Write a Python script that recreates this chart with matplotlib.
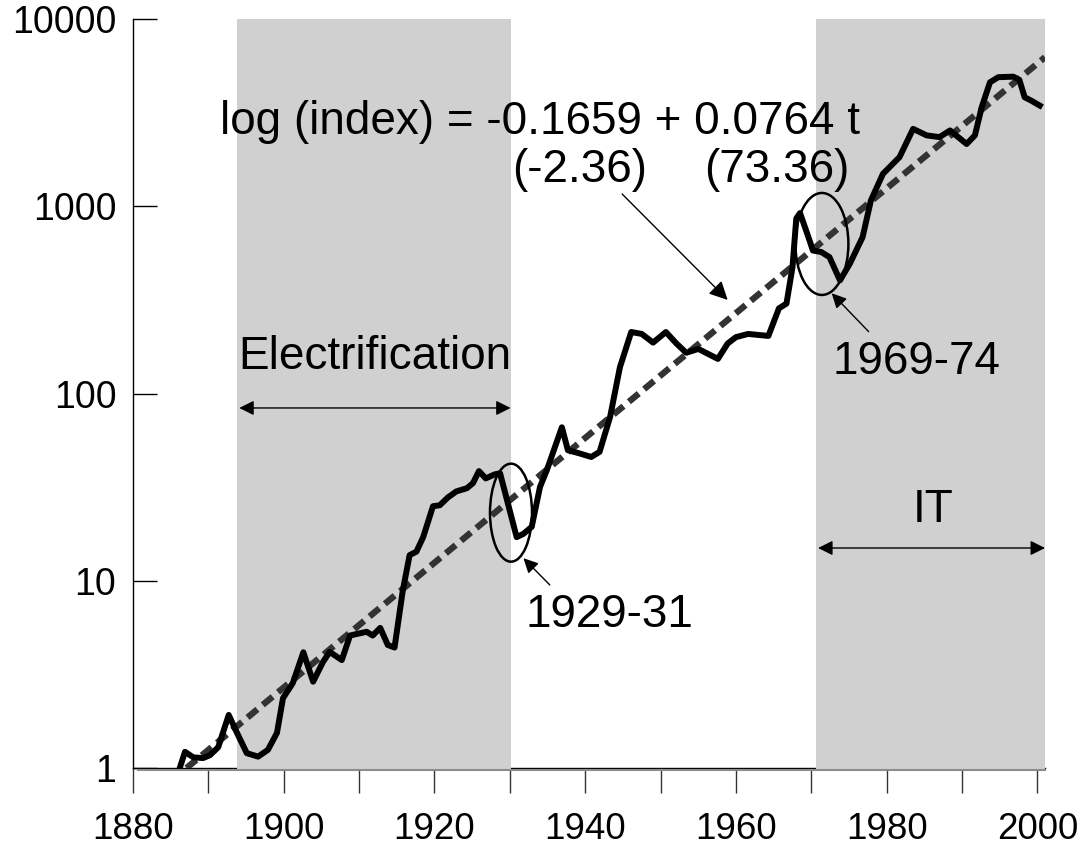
import matplotlib
matplotlib.use("Agg")
import matplotlib.pyplot as plt
from matplotlib.patches import Ellipse
from matplotlib.ticker import NullLocator

plt.rcParams['font.family'] = ['Liberation Sans', 'DejaVu Sans']

# ---- data ----
years = [1886.2, 1886.9, 1888.0, 1889.3, 1890.2, 1891.3, 1892.7, 1893.8, 1895.1, 1896.6,
         1897.9, 1899.1, 1899.9, 1901.2, 1902.6, 1903.9, 1905.2, 1906.1, 1907.7, 1908.8,
         1911.0, 1911.8, 1912.8, 1913.8, 1914.7, 1915.8, 1916.7, 1917.6, 1918.5, 1919.8,
         1920.7, 1921.8, 1922.9, 1924.3, 1925.1, 1925.9, 1926.8, 1928.0, 1928.7, 1930.9,
         1931.8, 1932.9, 1934.0, 1934.9, 1936.9, 1937.7, 1939.3, 1940.8, 1941.9, 1943.3,
         1944.6, 1946.1, 1947.5, 1949.0, 1950.7, 1952.1, 1953.4, 1955.0, 1957.6, 1958.9,
         1960.0, 1961.6, 1964.3, 1965.7, 1966.7, 1967.5, 1968.0, 1968.5, 1969.8, 1970.2,
         1971.3, 1972.4, 1973.8, 1975.1, 1976.8, 1977.9, 1979.5, 1981.7, 1983.5, 1985.3,
         1987.0, 1988.4, 1990.6, 1991.7, 1992.6, 1993.7, 1994.8, 1996.8, 1997.6, 1998.3,
         1999.2, 2000.3]
index = [1.00, 1.22, 1.14, 1.13, 1.17, 1.29, 1.92, 1.54, 1.20, 1.15,
         1.25, 1.54, 2.36, 2.84, 4.15, 2.89, 3.68, 4.17, 3.77, 5.10,
         5.34, 5.10, 5.60, 4.54, 4.40, 8.90, 13.7, 14.3, 17.1, 25.0,
         25.3, 27.9, 30.0, 31.2, 33.2, 38.5, 35.2, 37.0, 37.5, 17.1,
         17.8, 19.4, 31.7, 38.9, 66.0, 49.8, 47.8, 45.8, 48.8, 75.0,
         138, 213, 208, 187, 213, 185, 165, 173, 153, 185,
         200, 208, 203, 285, 302, 473, 860, 920, 650, 580,
         570, 535, 402, 493, 684, 1074, 1490, 1830, 2590, 2390,
         2340, 2540, 2150, 2390, 3380, 4590, 4890, 4920, 4730, 3820,
         3660, 3450]

trend_years = [1887.1, 2001.0]
trend_values = [1.0, 6250.0]

bands = [(1893.8, 1930.1), (1970.6, 2001.0)]

x_ticks = [1880, 1890, 1900, 1910, 1920, 1930, 1940, 1950, 1960, 1970, 1980, 1990, 2000]
x_labels = ['1880', '', '1900', '', '1920', '', '1940', '', '1960', '', '1980', '', '2000']
y_ticks = [1, 10, 100, 1000, 10000]
y_labels = ['1', '10', '100', '1000', '10000']

equation = 'log (index) = -0.1659 + 0.0764 t'
t_stats = ['(-2.36)', '(73.36)']

# ---- figure ----
W, H = 1083, 852
fig = plt.figure(figsize=(W / 100, H / 100), dpi=100)
ax = fig.add_axes([133 / W, 1 - 768 / H, (1045 - 133) / W, (768 - 19) / H])
ax.set_yscale('log')
ax.set_xlim(1880, 2001)
ax.set_ylim(1, 10000)

for a, b in bands:
    ax.axvspan(a, b, ymin=-0.003, ymax=1, color='#d0d0d0', lw=0, zorder=2.6, clip_on=False)
ax.plot([0.006, 1.0], [-0.003, -0.003], transform=ax.transAxes, color='#8c8c8c',
        lw=1.5, clip_on=False, zorder=2.7)

ax.plot(trend_years, trend_values, color='#333333', lw=4.6, dashes=(2.0, 1.1),
        solid_capstyle='butt', dash_capstyle='butt', zorder=4)
ax.plot(years, index, color='black', lw=4.3, solid_joinstyle='round', zorder=5)

# axes styling
for s in ['top', 'right']:
    ax.spines[s].set_visible(False)
ax.spines['left'].set_linewidth(1.0)
ax.spines['bottom'].set_linewidth(1.0)
ax.set_xticks(x_ticks)
ax.set_xticklabels(x_labels)
ax.set_yticks(y_ticks)
ax.set_yticklabels(y_labels)
ax.yaxis.set_minor_locator(NullLocator())
ax.xaxis.set_minor_locator(NullLocator())
ax.tick_params(axis='x', direction='out', length=18, width=1, color='#333333',
               labelsize=26.5, pad=14)
ax.tick_params(axis='y', direction='in', length=17, width=1, color='black',
               labelsize=27, pad=12)

txt = dict(fontsize=33, ha='center', va='center', zorder=6)
ax.text(1934.0, 2818, equation, **txt)
ax.text(1939.3, 1563, t_stats[0], **txt)
ax.text(1965.4, 1563, t_stats[1], **txt)
ax.text(1912.1, 157, 'Electrification', **txt)
ax.text(1983.9, 147, '1969-74', **txt)
ax.text(1943.2, 6.56, '1929-31', **txt)
ax.text(1986.1, 23.9, 'IT', **txt)

dbl = dict(arrowstyle='<|-|>', color='black', lw=1.0, mutation_scale=22,
           shrinkA=0, shrinkB=0)
ax.annotate('', xy=(1930.1, 83.7), xytext=(1894.1, 83.7), arrowprops=dbl, zorder=6)
ax.annotate('', xy=(2001.0, 14.96), xytext=(1970.9, 14.96), arrowprops=dbl,
            zorder=6, annotation_clip=False)

one = dict(arrowstyle='-|>', color='black', lw=1.0, mutation_scale=28,
           shrinkA=0, shrinkB=0)
ax.annotate('', xy=(1958.9, 316), xytext=(1944.9, 1162), arrowprops=one, zorder=6)
ax.annotate('', xy=(1972.7, 343), xytext=(1977.6, 214),
            arrowprops=dict(one, mutation_scale=22), zorder=6)
ax.annotate('', xy=(1931.8, 13.2), xytext=(1935.3, 9.5),
            arrowprops=dict(one, mutation_scale=22), zorder=6)

# ellipses around the two crashes (centre in data units, size in pixels)
ellipse_centres = [(1930.15, 23.1), (1971.4, 629.0)]
ellipse_sizes = [(42, 98), (53, 102)]
pw = ax.get_position().width * W
ph = ax.get_position().height * H
for (cx, cy), (ew, eh) in zip(ellipse_centres, ellipse_sizes):
    c = ax.transAxes.inverted().transform(ax.transData.transform((cx, cy)))
    ax.add_patch(Ellipse(c, ew / pw, eh / ph, transform=ax.transAxes, fill=False,
                         edgecolor='black', lw=1.8, zorder=7))

fig.savefig('out.png', dpi=100)
